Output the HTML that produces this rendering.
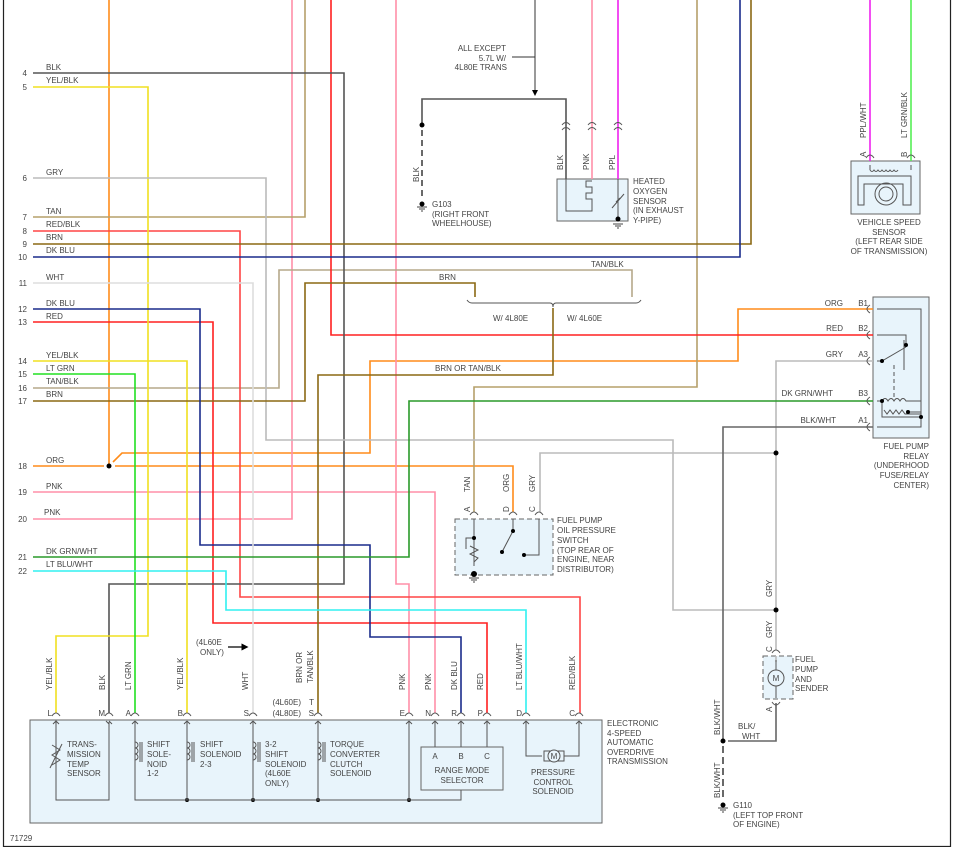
<!DOCTYPE html>
<html><head><meta charset="utf-8"><style>
html,body{margin:0;padding:0;background:#fff}
svg{display:block}
text{font-family:"Liberation Sans",sans-serif;font-size:8px;fill:#444}
</style></head><body>
<svg width="959" height="847" viewBox="0 0 959 847" xmlns="http://www.w3.org/2000/svg">
<defs>
<marker id="ar" markerWidth="6" markerHeight="6" refX="3" refY="3" orient="auto"><path d="M0,0 L6,3 L0,6 z" fill="#000"/></marker>
</defs>
<path d="M3.5,0 V846.5 H950.5 V0" fill="none" stroke="#222" stroke-width="1.2"/>

<rect x="30" y="720" width="572" height="103" fill="#e8f4fb" stroke="#666"/>
<rect x="421" y="747" width="82" height="43" fill="#e8f4fb" stroke="#666"/>
<rect x="873" y="297" width="56" height="141" fill="#e8f4fb" stroke="#666"/>
<rect x="851" y="161" width="69" height="53" fill="#e8f4fb" stroke="#666"/>
<rect x="557" y="179" width="71" height="42" fill="#e8f4fb" stroke="#666"/>
<rect x="455" y="519" width="98" height="56" fill="#e8f4fb" stroke="#666" stroke-dasharray="5,3"/>
<rect x="763" y="656" width="30" height="43" fill="#e8f4fb" stroke="#666" stroke-dasharray="5,3"/>

<g fill="none" stroke-width="1.6">
<path d="M109,0 V466" stroke="#ff8c1a"/>
<path d="M33,466 H104 M115,466 H513 V512" stroke="#ff8c1a"/>
<path d="M113,462 L122,453 H370 V361 H738 V309 H873" stroke="#ff8c1a"/>
<path d="M292,0 V519 H33" stroke="#ff8fa8"/>
<path d="M396,0 V584 H409 V713" stroke="#ff8fa8"/>
<path d="M33,492 H435 V713" stroke="#ff8fa8"/>
<path d="M305,0 V217 H33" stroke="#b5a06a"/>
<path d="M33,388 H279 V270 H632 V297" stroke="#b5a88a"/>
<path d="M697,0 V387 H474 V512" stroke="#b5a06a"/>
<path d="M331,0 V335 H873" stroke="#ff2020"/>
<path d="M33,322 H213 V623 H487 V713" stroke="#ff2020"/>
<path d="M33,231 H240 V597 H580 V713" stroke="#ff4545"/>
<path d="M33,73 H344 V584 H109 V713" stroke="#555"/>
<path d="M33,87 H148 V636 H56 V713" stroke="#f0e020"/>
<path d="M33,361 H187 V713" stroke="#f0e020"/>
<path d="M33,178 H266 V440 H673 V610 H776" stroke="#bbb"/>
<path d="M873,361 H776 V650" stroke="#bbb"/>
<path d="M776,453 H540 V512" stroke="#bbb"/>
<path d="M776,662 V656" stroke="#bbb"/>
<path d="M33,244 H751 V0" stroke="#8b6914"/>
<path d="M33,401 H305 V283 H475 V297" stroke="#8b6914"/>
<path d="M553,308 V375 H318 V713" stroke="#8b6914"/>
<path d="M33,257 H740 V0" stroke="#1a2c8c"/>
<path d="M33,309 H200 V545 H370 V637 H461 V713" stroke="#1a2c8c"/>
<path d="M33,283 H253 V713" stroke="#ddd"/>
<path d="M33,374 H135 V713" stroke="#22e022"/>
<path d="M33,557 H409 V401 H873" stroke="#2a9a2a"/>
<path d="M33,571 H226 V610 H526 V713" stroke="#30f0f0"/>
<path d="M873,427 H723 V741" stroke="#666"/>
<path d="M723,746 V800" stroke="#444" stroke-dasharray="7,4"/>
<path d="M728,741 H776 V703" stroke="#666"/>
<path d="M566,179 V99 H422 V125" stroke="#555"/>
<path d="M422,130 V200" stroke="#444" stroke-dasharray="6,4"/>
<path d="M592,0 V179" stroke="#ff8fa8"/>
<path d="M618,0 V179" stroke="#ee22ee"/>
<path d="M870,0 V161" stroke="#ee22ee"/>
<path d="M911,0 V161" stroke="#55ee55"/>
</g>

<g fill="#000">
<circle cx="109" cy="466" r="2.5"/><circle cx="776" cy="453" r="2.5"/><circle cx="776" cy="610" r="2.5"/>
<circle cx="723" cy="741" r="2.5"/><circle cx="422" cy="125" r="2.5"/>
<circle cx="187" cy="800" r="2"/><circle cx="253" cy="800" r="2"/><circle cx="318" cy="800" r="2"/><circle cx="409" cy="800" r="2"/>
</g>

<g fill="none" stroke="#555" stroke-width="1">
<path d="M56,722 V800 H109 V722"/>
<path d="M135,722 V800 H409 M187,722 V800 M253,722 V800 M318,722 V800 M409,722 V800 H461 V790"/>
<path d="M435,722 V747 M461,722 V747 M487,722 V747"/>
<path d="M526,722 V756 H542 M564,756 H579 V722"/>
<path d="M52,745 L60,750 L52,755 L60,760 L52,765" />
<path d="M50,768 L62,744"/>
<g>
<path d="M135,742 a3,3 0 0 1 0,6 a3,3 0 0 1 0,6 a3,3 0 0 1 0,6"/><path d="M140,742 V762 M142,742 V762"/>
<path d="M187,742 a3,3 0 0 1 0,6 a3,3 0 0 1 0,6 a3,3 0 0 1 0,6"/><path d="M192,742 V762 M194,742 V762"/>
<path d="M253,742 a3,3 0 0 1 0,6 a3,3 0 0 1 0,6 a3,3 0 0 1 0,6"/><path d="M258,742 V762 M260,742 V762"/>
<path d="M318,742 a3,3 0 0 1 0,6 a3,3 0 0 1 0,6 a3,3 0 0 1 0,6"/><path d="M323,742 V762 M325,742 V762"/>
</g>
<rect x="544" y="751" width="20" height="10"/><circle cx="554" cy="756" r="6" fill="#e8f4fb"/>
<path d="M877,309 H921 V412 H908 M877,335 H906 V345 M877,361 H882 L906,347 M904,370 V340 M877,401 H882 M882,401 V417 H921 V403 M877,427 H921 V403"/>
<path d="M882,401 q3,-5 6,0 q3,-5 6,0 q3,-5 6,0 q3,-5 6,0 H921" />
<path d="M884,410 l3,4 l3,-4 l3,4 l3,-4 l3,4 l3,-4 l3,4 H921"/>
<path d="M894,365 V398" stroke-dasharray="4,3"/>
<path d="M474,519 V538 M474,538 H466 V549 M474,538 V566 M470,546 L478,550 L470,554 L478,558 L474,562 M513,519 V531 L502,552 M524,555 H539 V519"/>
<path d="M566,179 V211 H592 V199 H586 V193 H592 V187 H586 V181 H592 M592,199 V211 M618,179 V219 M612,208 L624,194 M620,198 l-4,4"/>
<path d="M870,165 V170 M911,165 V170 M858,176 H911 V205 H903 V184 H864 V205 H858 Z"/>
<path d="M870,170 q2,3 4,0 q2,3 4,0 q2,3 4,0 q2,3 4,0 q2,3 4,0 q2,3 4,0 q2,3 4,0"/>
<circle cx="886" cy="194" r="11"/><circle cx="886" cy="194" r="7"/>
<path d="M776,660 V670 M776,686 V698"/>
<circle cx="776" cy="678" r="8" fill="#e8f4fb"/>
</g>
<g fill="#000">
<circle cx="474" cy="538" r="2"/><circle cx="513" cy="531" r="2"/><circle cx="502" cy="552" r="2"/><circle cx="524" cy="555" r="2"/><circle cx="474" cy="574" r="3"/>
<circle cx="906" cy="345" r="2"/><circle cx="882" cy="361" r="2"/><circle cx="908" cy="412" r="2"/><circle cx="882" cy="401" r="2"/><circle cx="921" cy="417" r="2"/>
<circle cx="618" cy="219" r="2.5"/>
<circle cx="422" cy="204" r="2.5"/><circle cx="723" cy="805" r="2.5"/>
</g>
<g stroke="#444" stroke-width="1">
<path d="M417,207 H427 M419,209 H425 M421,211 H423"/>
<path d="M613,224 H623 M615,226 H621 M617,228 H619"/>
<path d="M469,578 H479 M471,580 H477 M473,582 H475"/>
<path d="M718,808 H728 M720,810 H726 M722,812 H724"/>
</g>
<path d="M535,0 V93" stroke="#333" stroke-width="1" marker-end="url(#ar)"/>
<path d="M512,57 H535" stroke="#333" stroke-width="1"/>
<path d="M228,647 H245" stroke="#000" stroke-width="1.2" marker-end="url(#ar)"/>
<path d="M467,300 q2,3 5,3 H550 q3,0 3,4 q0,-4 3,-4 H636 q3,0 5,-3" fill="none" stroke="#555" stroke-width="1"/>

<g fill="none" stroke="#555" stroke-width="1">
<path d="M52,716 q4,-6 8,0 M105,716 q4,-6 8,0 M131,716 q4,-6 8,0 M183,716 q4,-6 8,0 M249,716 q4,-6 8,0 M314,716 q4,-6 8,0 M405,716 q4,-6 8,0 M431,716 q4,-6 8,0 M457,716 q4,-6 8,0 M483,716 q4,-6 8,0 M522,716 q4,-6 8,0 M575,716 q4,-6 8,0"/>
<path d="M56,728 V720 M53,724 l3,-3 l3,3 M109,724 l-3,-3 M109,721 l3,3 M135,721 l-3,3 M135,721 l3,3 M187,721 l-3,3 M187,721 l3,3 M253,721 l-3,3 M253,721 l3,3 M318,721 l-3,3 M318,721 l3,3 M409,721 l-3,3 M409,721 l3,3 M435,721 l-3,3 M435,721 l3,3 M461,721 l-3,3 M461,721 l3,3 M487,721 l-3,3 M487,721 l3,3 M526,721 l-3,3 M526,721 l3,3 M579,721 l-3,3 M579,721 l3,3"/>
<path d="M470,515 q4,-6 8,0 M509,515 q4,-6 8,0 M535,515 q4,-6 8,0 M772,653 q4,-6 8,0 M772,702 q4,6 8,0 M866,158 q4,-6 8,0 M907,158 q4,-6 8,0"/>
<path d="M562,125 q4,-5 8,0 M562,130 q4,-5 8,0 M588,125 q4,-5 8,0 M588,130 q4,-5 8,0 M614,125 q4,-5 8,0 M614,130 q4,-5 8,0"/>
<path d="M870,305 q-6,4 0,8 M870,331 q-6,4 0,8 M870,357 q-6,4 0,8 M870,397 q-6,4 0,8 M870,423 q-6,4 0,8"/>
</g>

<g text-anchor="end">
<text x="27" y="76">4</text><text x="27" y="90">5</text><text x="27" y="181">6</text><text x="27" y="220">7</text><text x="27" y="234">8</text><text x="27" y="247">9</text><text x="27" y="260">10</text><text x="27" y="286">11</text><text x="27" y="312">12</text><text x="27" y="325">13</text><text x="27" y="364">14</text><text x="27" y="377">15</text><text x="27" y="391">16</text><text x="27" y="404">17</text><text x="27" y="469">18</text><text x="27" y="495">19</text><text x="27" y="522">20</text><text x="27" y="560">21</text><text x="27" y="574">22</text>
</g>
<text x="46" y="70">BLK</text><text x="46" y="83">YEL/BLK</text><text x="46" y="175">GRY</text><text x="46" y="214">TAN</text><text x="46" y="227">RED/BLK</text><text x="46" y="240">BRN</text><text x="46" y="253">DK BLU</text><text x="46" y="280">WHT</text><text x="46" y="306">DK BLU</text><text x="46" y="319">RED</text><text x="46" y="358">YEL/BLK</text><text x="46" y="371">LT GRN</text><text x="46" y="384">TAN/BLK</text><text x="46" y="397">BRN</text><text x="46" y="463">ORG</text><text x="46" y="489">PNK</text><text x="44" y="515">PNK</text><text x="46" y="554">DK GRN/WHT</text><text x="46" y="567">LT BLU/WHT</text>

<text x="439" y="280">BRN</text><text x="591" y="267">TAN/BLK</text>
<text x="493" y="321">W/ 4L80E</text><text x="567" y="321">W/ 4L60E</text>
<text x="435" y="371">BRN OR TAN/BLK</text>

<g text-anchor="end">
<text x="506" y="51">ALL EXCEPT</text><text x="506" y="61">5.7L W/</text><text x="507" y="70">4L80E TRANS</text>
</g>
<text x="432" y="207">G103</text><text x="432" y="217">(RIGHT FRONT</text><text x="432" y="226">WHEELHOUSE)</text>
<text x="633" y="184">HEATED</text><text x="633" y="194">OXYGEN</text><text x="633" y="204">SENSOR</text><text x="633" y="213">(IN EXHAUST</text><text x="633" y="223">Y-PIPE)</text>
<g text-anchor="middle">
<text x="889" y="225">VEHICLE SPEED</text><text x="889" y="235">SENSOR</text><text x="889" y="244">(LEFT REAR SIDE</text><text x="889" y="254">OF TRANSMISSION)</text>
</g>
<g text-anchor="end">
<text x="929" y="449">FUEL PUMP</text><text x="929" y="459">RELAY</text><text x="929" y="468">(UNDERHOOD</text><text x="929" y="478">FUSE/RELAY</text><text x="929" y="488">CENTER)</text>
<text x="843" y="306">ORG</text><text x="843" y="331">RED</text><text x="843" y="357">GRY</text><text x="833" y="396">DK GRN/WHT</text><text x="836" y="423">BLK/WHT</text>
<text x="868" y="306">B1</text><text x="868" y="331">B2</text><text x="868" y="357">A3</text><text x="868" y="396">B3</text><text x="868" y="423">A1</text>
</g>
<text x="557" y="523">FUEL PUMP</text><text x="557" y="533">OIL PRESSURE</text><text x="557" y="543">SWITCH</text><text x="557" y="553">(TOP REAR OF</text><text x="557" y="562">ENGINE, NEAR</text><text x="557" y="572">DISTRIBUTOR)</text>
<text x="795" y="662">FUEL</text><text x="795" y="672">PUMP</text><text x="795" y="682">AND</text><text x="795" y="691">SENDER</text>
<text x="738" y="729">BLK/</text><text x="742" y="739">WHT</text>
<text x="733" y="808">G110</text><text x="733" y="818">(LEFT TOP FRONT</text><text x="733" y="827">OF ENGINE)</text>
<text x="607" y="726">ELECTRONIC</text><text x="607" y="736">4-SPEED</text><text x="607" y="745">AUTOMATIC</text><text x="607" y="755">OVERDRIVE</text><text x="607" y="764">TRANSMISSION</text>
<text x="10" y="841">71729</text>
<text x="776" y="681" text-anchor="middle" font-size="9">M</text>
<text x="554" y="759" text-anchor="middle" font-size="8">M</text>
<text x="196" y="645">(4L60E</text><text x="200" y="655">ONLY)</text>

<g text-anchor="end">
<text x="52" y="716">L</text><text x="105" y="716">M</text><text x="131" y="716">A</text><text x="183" y="716">B</text><text x="249" y="716">S</text><text x="314" y="716">S</text><text x="314" y="705">T</text><text x="301" y="705">(4L60E)</text><text x="301" y="716">(4L80E)</text>
<text x="405" y="716">E</text><text x="431" y="716">N</text><text x="457" y="716">R</text><text x="483" y="716">P</text><text x="522" y="716">D</text><text x="575" y="716">C</text>
</g>
<text x="67" y="747">TRANS-</text><text x="67" y="757">MISSION</text><text x="67" y="767">TEMP</text><text x="67" y="776">SENSOR</text>
<text x="147" y="747">SHIFT</text><text x="147" y="757">SOLE-</text><text x="147" y="767">NOID</text><text x="147" y="776">1-2</text>
<text x="200" y="747">SHIFT</text><text x="200" y="757">SOLENOID</text><text x="200" y="767">2-3</text>
<text x="265" y="747">3-2</text><text x="265" y="757">SHIFT</text><text x="265" y="767">SOLENOID</text><text x="265" y="776">(4L60E</text><text x="265" y="786">ONLY)</text>
<text x="330" y="747">TORQUE</text><text x="330" y="757">CONVERTER</text><text x="330" y="767">CLUTCH</text><text x="330" y="776">SOLENOID</text>
<g text-anchor="middle">
<text x="435" y="759">A</text><text x="461" y="759">B</text><text x="487" y="759">C</text>
<text x="462" y="773">RANGE MODE</text><text x="462" y="783">SELECTOR</text>
<text x="553" y="775">PRESSURE</text><text x="553" y="785">CONTROL</text><text x="553" y="794">SOLENOID</text>
</g>

<g>
<text transform="translate(52,690) rotate(-90)">YEL/BLK</text>
<text transform="translate(105,690) rotate(-90)">BLK</text>
<text transform="translate(131,690) rotate(-90)">LT GRN</text>
<text transform="translate(183,690) rotate(-90)">YEL/BLK</text>
<text transform="translate(248,690) rotate(-90)">WHT</text>
<text transform="translate(302,683) rotate(-90)">BRN OR</text>
<text transform="translate(313,683) rotate(-90)">TAN/BLK</text>
<text transform="translate(405,690) rotate(-90)">PNK</text>
<text transform="translate(431,690) rotate(-90)">PNK</text>
<text transform="translate(457,690) rotate(-90)">DK BLU</text>
<text transform="translate(483,690) rotate(-90)">RED</text>
<text transform="translate(522,690) rotate(-90)">LT BLU/WHT</text>
<text transform="translate(575,690) rotate(-90)">RED/BLK</text>
<text transform="translate(470,492) rotate(-90)">TAN</text>
<text transform="translate(509,492) rotate(-90)">ORG</text>
<text transform="translate(535,492) rotate(-90)">GRY</text>
<text transform="translate(470,512) rotate(-90)">A</text>
<text transform="translate(509,512) rotate(-90)">D</text>
<text transform="translate(535,512) rotate(-90)">C</text>
<text transform="translate(772,597) rotate(-90)">GRY</text>
<text transform="translate(772,638) rotate(-90)">GRY</text>
<text transform="translate(772,652) rotate(-90)">C</text>
<text transform="translate(772,712) rotate(-90)">A</text>
<text transform="translate(720,735) rotate(-90)">BLK/WHT</text>
<text transform="translate(720,798) rotate(-90)">BLK/WHT</text>
<text transform="translate(419,182) rotate(-90)">BLK</text>
<text transform="translate(563,170) rotate(-90)">BLK</text>
<text transform="translate(589,170) rotate(-90)">PNK</text>
<text transform="translate(615,170) rotate(-90)">PPL</text>
<text transform="translate(866,138) rotate(-90)">PPL/WHT</text>
<text transform="translate(907,138) rotate(-90)">LT GRN/BLK</text>
<text transform="translate(866,157) rotate(-90)">A</text>
<text transform="translate(907,157) rotate(-90)">B</text>
</g>
</svg>
</body></html>
